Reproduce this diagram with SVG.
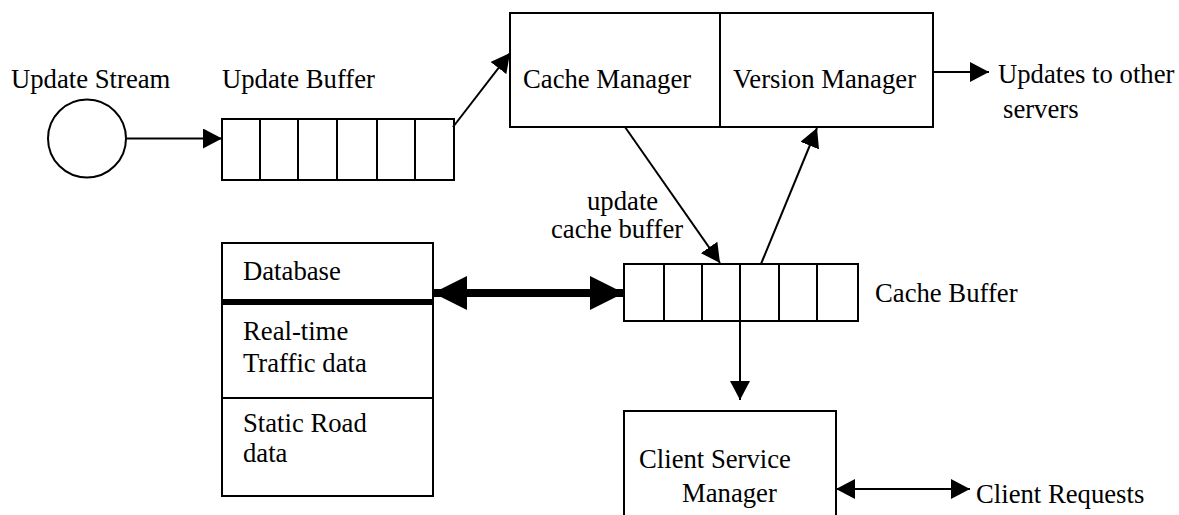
<svg xmlns="http://www.w3.org/2000/svg" width="1179" height="515" viewBox="0 0 1179 515">
  <style>
    .box { fill: #fff; stroke: #000; stroke-width: 2; }
    .ln { fill: none; stroke: #000; stroke-width: 2; }
    .thick { fill: none; stroke: #000; stroke-width: 8; }
    text { font-family: 'Liberation Serif', 'Times New Roman', Times, serif; font-size: 26.7px; fill: #000; }
  </style>
  <defs>
    <marker id="arrow" markerUnits="userSpaceOnUse" markerWidth="19" markerHeight="20" refX="19" refY="10" orient="auto-start-reverse">
      <path d="M0,0 L19,10 L0,20 z" fill="#000"/>
    </marker>
    <marker id="arrowBig" markerUnits="userSpaceOnUse" markerWidth="34" markerHeight="34" refX="34" refY="17" orient="auto-start-reverse">
      <path d="M0,0 L34,17 L0,34 z" fill="#000"/>
    </marker>
  </defs>
  <rect width="1179" height="515" fill="#fff"/>

  <!-- source of incoming updates -->
  <g id="update-stream">
    <circle class="box" cx="87" cy="138.5" r="39"/>
    <text x="11" y="88">Update Stream</text>
  </g>

  <!-- queue of pending updates -->
  <g id="update-buffer">
    <rect class="box" x="222" y="119" width="232" height="61"/>
    <path class="ln" d="M260,119V180 M298,119V180 M337,119V180 M377,119V180 M415,119V180"/>
    <text x="222" y="88">Update Buffer</text>
  </g>

  <!-- cache manager and version manager share one box -->
  <g id="managers">
    <rect class="box" x="510" y="13" width="423" height="114"/>
    <line class="ln" x1="720" y1="13" x2="720" y2="127"/>
    <text x="523" y="88">Cache Manager</text>
    <text x="733" y="88">Version Manager</text>
  </g>

  <g id="other-servers">
    <text x="998" y="83">Updates to other</text>
    <text x="1003" y="118">servers</text>
  </g>

  <g id="cache-buffer">
    <rect class="box" x="624" y="264" width="234" height="57"/>
    <path class="ln" d="M664,264V321 M702,264V321 M740,264V321 M779,264V321 M817,264V321"/>
    <text x="875" y="302">Cache Buffer</text>
  </g>

  <g id="database">
    <rect class="box" x="222" y="243" width="211" height="253"/>
    <line x1="222" y1="302" x2="433" y2="302" stroke="#000" stroke-width="6"/>
    <line class="ln" x1="222" y1="398" x2="433" y2="398"/>
    <text x="243" y="280">Database</text>
    <text x="243" y="340">Real-time</text>
    <text x="243" y="372">Traffic data</text>
    <text x="243" y="432">Static Road</text>
    <text x="243" y="462">data</text>
  </g>

  <g id="client-service-manager">
    <rect class="box" x="624" y="411" width="212" height="120"/>
    <text x="639" y="468">Client Service</text>
    <text x="682" y="502">Manager</text>
  </g>

  <g id="client-requests">
    <text x="976" y="503">Client Requests</text>
  </g>

  <g id="connectors">
    <line class="ln" x1="126" y1="138.5" x2="222" y2="138.5" marker-end="url(#arrow)"/>
    <line class="ln" x1="453" y1="127" x2="510" y2="53" marker-end="url(#arrow)"/>
    <line class="ln" x1="933" y1="72" x2="989" y2="72" marker-end="url(#arrow)"/>
    <line class="ln" x1="625" y1="127" x2="720" y2="263" marker-end="url(#arrow)"/>
    <line class="ln" x1="761" y1="264" x2="817" y2="128" marker-end="url(#arrow)"/>
    <line class="ln" x1="740" y1="321" x2="740" y2="400" marker-end="url(#arrow)"/>
    <line class="ln" x1="836" y1="489" x2="970" y2="489" marker-start="url(#arrow)" marker-end="url(#arrow)"/>
    <line class="thick" x1="433" y1="293" x2="624" y2="293" marker-start="url(#arrowBig)" marker-end="url(#arrowBig)"/>
    <text x="587" y="210">update</text>
    <text x="551" y="238">cache buffer</text>
  </g>
</svg>
